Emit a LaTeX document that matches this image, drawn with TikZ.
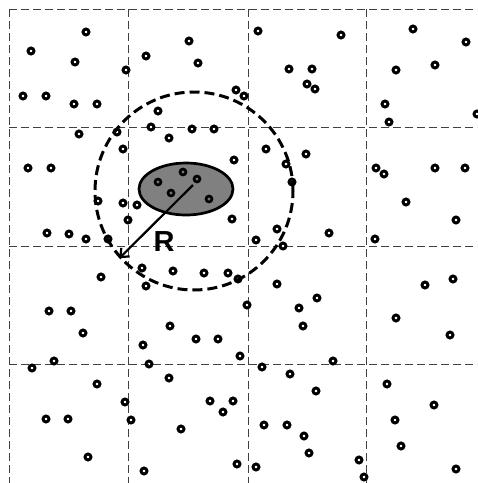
\documentclass[tikz,border=0pt]{standalone}
\usepackage{fontspec}
\setmainfont{Liberation Sans}
\usetikzlibrary{shapes.geometric,arrows.meta}
\begin{document}
\begin{tikzpicture}[x=1pt,y=-1pt,
 gridline/.style={black!75,line width=0.9pt,dash pattern=on 8pt off 4pt},
 dot/.style={circle,draw=black,line width=2.9pt,minimum size=6pt,inner sep=0pt},
 innerdot/.style={circle,draw=black,line width=2.6pt,minimum size=6pt,inner sep=0pt,fill=black!55},
 rangecircle/.style={circle,draw=black,line width=3pt,dash pattern=on 10pt off 5pt,minimum size=198pt,inner sep=0pt},
 cluster/.style={ellipse,draw=black,line width=2.7pt,fill=black!50,minimum width=94pt,minimum height=52pt,inner sep=0pt},
 radiusarrow/.style={line width=2.2pt,-{Straight Barb[length=7pt,width=12pt]}},
 lbl/.style={font=\fontsize{29}{29}\selectfont\bfseries,inner sep=0pt}]
\fill[white] (0,0) rectangle (478,483);
\useasboundingbox (0,0) rectangle (478,483);
% grid
\foreach \gy in {9,127,246,364} \draw[gridline] (9,\gy) -- (477,\gy);
\foreach \gx in {9,128,248,366} \draw[gridline] (\gx,9) -- (\gx,483);
% range circle and cluster
\node[rangecircle] (rng) at (194,191) {};
\node[cluster] (cl) at (186,189) {};
% scattered nodes
\foreach \px/\py [count=\i] in {86/32,31/51,75/62,126/70,146/56,23/96,46/96,74/104,97/104,79/134,117/132,123/149,151/127,158/111,
258/31,189/41,198/63,289/69,312/69,307/84,315/89,236/90,244/96,192/129,214/129,169/138,266/149,306/154,234/160,
341/35,413/29,466/42,396/70,435/65,385/104,389/122,477/114,
28/168,51/168,98/201,123/203,137/205,128/220,47/233,69/234,86/239,108/239,142/268,146/286,101/277,49/311,71/311,
286/164,292/182,232/219,277/229,256/240,283/246,173/271,204/273,228/273,238/279,277/284,247/305,299/308,317/298,
376/168,384/174,435/168,465/168,406/202,456/220,329/233,375/239,453/279,425/285,396/318,
83/333,143/345,32/368,54/361,149/364,97/384,125/402,131/420,46/419,68/419,88/457,144/471,
170/326,196/339,218/339,303/326,240/356,262/367,290/374,169/378,316/391,210/401,233/401,223/412,181/429,264/425,287/425,304/436,309/453,237/464,256/467,
450/335,333/361,387/384,434/405,395/420,401/446,359/460,364/477,456/469}
  \node[dot] (d\i) at (\px,\py) {};
% nodes inside the cluster
\foreach \px/\py [count=\i] in {183/172,158/182,197/179,171/193,209/199}
  \node[innerdot] (m\i) at (\px,\py) {};
% radius arrow
\coordinate (rstart) at (193,185);
\draw[radiusarrow] (rstart) -- (rng.222);
\node[lbl] (R) at (164,242) {R};
\end{tikzpicture}
\end{document}
